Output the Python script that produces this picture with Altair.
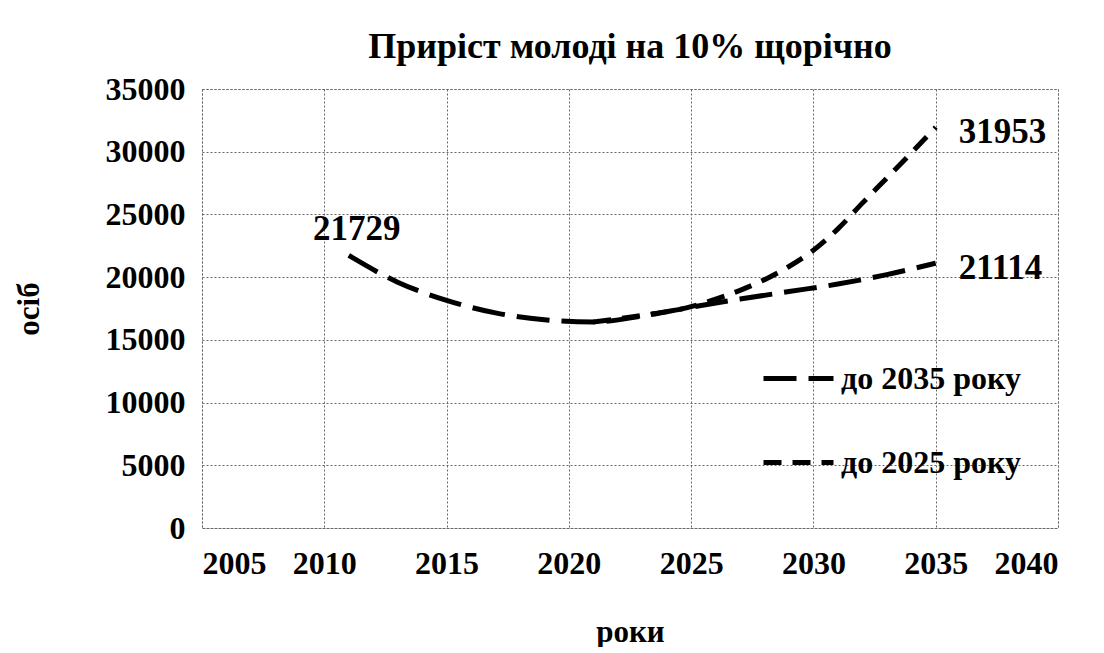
import altair as alt
import pandas as pd

# Series "до 2035 року" (long dash)
years_2035 = [2011, 2013, 2015, 2017, 2019, 2021, 2023, 2025, 2027, 2029, 2031, 2033, 2035]
vals_2035 = [21729, 19600, 18150, 17150, 16600, 16420, 16900, 17600, 18250, 18850, 19450, 20200, 21114]

# Series "до 2025 року" (short dash)
years_2025 = [2021, 2023, 2025, 2026, 2027, 2028, 2029, 2030, 2031, 2032, 2033, 2034, 2035]
vals_2025 = [16420, 16950, 17650, 18250, 18950, 19800, 20850, 22150, 23850, 25900, 27900, 29900, 31953]

series_names = ["до 2035 року", "до 2025 року"]

# Data labels
label_years = [2011, 2035, 2035]
label_vals = [21729, 31953, 21114]
label_texts = ["21729", "31953", "21114"]

x_ticks = [2005, 2010, 2015, 2020, 2025, 2030, 2035, 2040]
y_ticks = [0, 5000, 10000, 15000, 20000, 25000, 30000, 35000]

FONT = "Liberation Serif"

df = pd.concat([
    pd.DataFrame({"year": years_2035, "value": vals_2035, "series": series_names[0]}),
    pd.DataFrame({"year": years_2025, "value": vals_2025, "series": series_names[1]}),
])

lab = pd.DataFrame({"year": label_years, "value": label_vals, "text": label_texts})

xs = alt.X("year:Q", scale=alt.Scale(domain=[2005, 2040], nice=False),
           axis=alt.Axis(values=x_ticks, format="d", title="роки", labelPadding=20,
                         titlePadding=38, grid=True, ticks=False, domain=False))
ys = alt.Y("value:Q", scale=alt.Scale(domain=[0, 35000], nice=False),
           axis=alt.Axis(values=y_ticks, format="d", title="осіб", labelPadding=17,
                         titlePadding=60, grid=True, ticks=False, domain=False))

lines = alt.Chart(df).mark_line(color="black", strokeWidth=5, interpolate="monotone").encode(
    x=xs,
    y=ys,
    strokeDash=alt.StrokeDash(
        "series:N",
        scale=alt.Scale(domain=series_names, range=[[33, 12], [18, 11]]),
        legend=alt.Legend(title=None, orient="none", legendX=559, legendY=252,
                          symbolType="stroke", symbolSize=4900, symbolStrokeWidth=5,
                          symbolStrokeColor="black", rowPadding=30, labelOffset=5,
                          labelFont=FONT, labelFontSize=32, labelFontWeight="bold",
                          labelColor="black", labelLimit=400),
    ),
)

t_left = alt.Chart(lab.iloc[[0]]).mark_text(font=FONT, fontSize=35, fontWeight="bold",
                                              color="black", dx=8, dy=-26,
                                              baseline="middle", align="center").encode(
    x="year:Q", y="value:Q", text="text:N")
t_right = alt.Chart(lab.iloc[[1, 2]]).mark_text(font=FONT, fontSize=35, fontWeight="bold",
                                                  color="black", dx=23, dy=5,
                                                  baseline="middle", align="left").encode(
    x="year:Q", y="value:Q", text="text:N")

chart = alt.layer(lines, t_left, t_right).properties(
    width=856, height=439,
    title=alt.TitleParams("Приріст молоді на 10% щорічно", font=FONT, fontSize=36,
                          fontWeight="bold", color="black", offset=7, anchor="middle"),
    padding={"left": 5, "top": 21, "right": 5, "bottom": 0},
).configure_axis(
    labelFont=FONT, labelFontSize=32, labelFontWeight="bold", labelColor="black",
    titleFont=FONT, titleFontSize=31, titleFontWeight="bold", titleColor="black",
    gridColor="#666666", gridDash=[2, 2], gridWidth=1,
).configure_view(
    stroke="#666666", strokeDash=[2, 2], strokeWidth=1,
)

chart.save("out.html", embed_options={"renderer": "svg", "actions": False})
